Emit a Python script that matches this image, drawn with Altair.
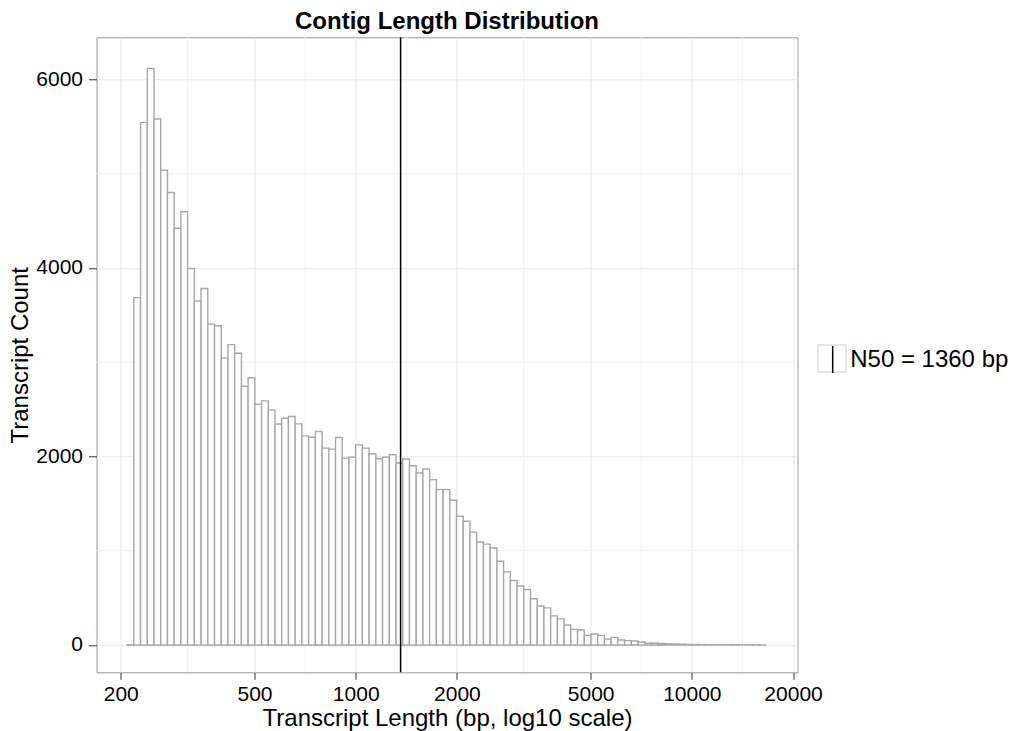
import altair as alt
import pandas as pd

TITLE = "Contig Length Distribution"
X_TITLE = "Transcript Length (bp, log10 scale)"
Y_TITLE = "Transcript Count"

# histogram on log10(length): bin start and bin width in log10 units
LOG_START = 2.32
LOG_BINWIDTH = 0.02
COUNTS = [
    2, 3684, 5544, 6116, 5579, 5035, 4800, 4421, 4596, 3993, 3649, 3782,
    3403, 3386, 3045, 3186, 3095, 2744, 2835, 2554, 2589, 2491, 2344,
    2405, 2423, 2345, 2218, 2204, 2264, 2088, 2077, 2201, 1982, 1993, 2123,
    2088, 2028, 1975, 1993, 2018, 1930, 1972, 1901, 1824, 1866, 1754, 1648,
    1648, 1535, 1366, 1313, 1197, 1092,
    1070, 1028, 888, 775, 684, 625, 589, 491, 414, 393, 309, 277, 211, 165,
    158, 102, 116, 102, 63, 81, 53, 46, 42, 32, 18, 18,
    15, 12, 10, 8, 6, 5, 4, 3, 3, 2, 2, 2, 1, 1, 1, 1,
]
N50 = 1360
N50_LABEL = "N50 = 1360 bp"

X_TICKS = [200, 500, 1000, 2000, 5000, 10000, 20000]
X_MINOR = [316.2, 707.1, 1414.2, 3162.3, 7071.1, 14142.1]
Y_TICKS = [0, 2000, 4000, 6000]
Y_MINOR = [1000, 3000, 5000]
X_DOMAIN = [169.4, 20620]
Y_DOMAIN = [-290, 6446]

FONT = "Liberation Sans"
W, H = 701, 635

bins = pd.DataFrame({
    "lo": [10 ** (LOG_START + i * LOG_BINWIDTH) for i in range(len(COUNTS))],
    "hi": [10 ** (LOG_START + (i + 1) * LOG_BINWIDTH) for i in range(len(COUNTS))],
    "count": COUNTS,
})
n50_df = pd.DataFrame({"lo": [N50], "label": [N50_LABEL]})
xminor_df = pd.DataFrame({"lo": X_MINOR})
yminor_df = pd.DataFrame({"count": Y_MINOR})

xscale = alt.Scale(type="log", domain=X_DOMAIN, nice=False, zero=False)
yscale = alt.Scale(domain=Y_DOMAIN, nice=False, zero=False)

xaxis = alt.Axis(
    values=X_TICKS, format="d", title=X_TITLE, grid=True, gridColor="#e6e6e6",
    domain=False, tickColor="#333333", tickSize=7, labelFontSize=21,
    labelColor="black", labelPadding=4, labelFlush=False, labelOverlap=False,
    titleFontSize=24, titleFontWeight="normal", titleColor="black",
    titleX=W / 2, titleY=46, titleBaseline="middle", titleAlign="center")
yaxis = alt.Axis(
    values=Y_TICKS, format="d", title=Y_TITLE, grid=True, gridColor="#e6e6e6",
    domain=False, tickColor="#333333", tickSize=8, labelFontSize=21,
    labelColor="black", labelPadding=6, labelFlush=False, labelOverlap=False,
    titleFontSize=24, titleFontWeight="normal", titleColor="black",
    titleX=-76.5, titleY=H / 2, titleAngle=270, titleBaseline="middle",
    titleAlign="center")

X = alt.X("lo:Q", scale=xscale, axis=xaxis, title=X_TITLE)
Y = alt.Y("count:Q", scale=yscale, axis=yaxis, title=Y_TITLE)

minor_x = alt.Chart(xminor_df).mark_rule(color="#f2f2f2", strokeWidth=1).encode(x=X)
minor_y = alt.Chart(yminor_df).mark_rule(color="#f2f2f2", strokeWidth=1).encode(y=Y)

bars = alt.Chart(bins).mark_rect(fill="white", stroke="#a8a8a8", strokeWidth=1.4).encode(
    x=X, x2="hi:Q", y=Y, y2=alt.datum(0),
)

key_box = alt.Chart(n50_df).mark_rect(fill="white", stroke="#cccccc", strokeWidth=1).encode(
    x=alt.value(721.5), x2=alt.value(749.5), y=alt.value(307.7), y2=alt.value(334.7)
)

n50 = alt.Chart(n50_df).mark_rule(strokeWidth=1.5).encode(
    x=X,
    color=alt.Color("label:N", scale=alt.Scale(domain=[N50_LABEL], range=["black"]),
                    legend=alt.Legend(title=None, orient="none", legendX=721.7, legendY=307.7,
                                      symbolType="M0,-1V1", symbolSize=729,
                                      symbolStrokeWidth=1.5, symbolStrokeColor="black",
                                      labelFontSize=24, labelFont=FONT, labelColor="black",
                                      labelOffset=3, padding=0)),
)

chart = alt.layer(minor_x, minor_y, bars, key_box, n50).properties(
    width=W, height=H,
    title=alt.TitleParams(TITLE, fontSize=24, font=FONT, fontWeight="bold",
                          anchor="middle", offset=3, color="black"),
    autosize=alt.AutoSizeParams(type="none"),
    padding={"left": 96.5, "top": 37.3, "right": 213.5, "bottom": 58.7},
).configure(font=FONT).configure_view(stroke="#999999", strokeWidth=1)

chart.save("out.html", embed_options={"renderer": "svg", "actions": False})
